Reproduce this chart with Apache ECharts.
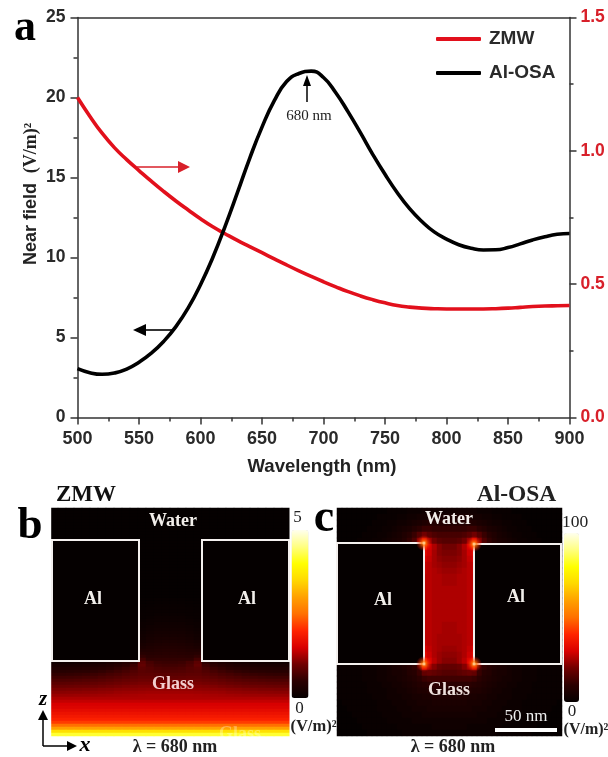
<!DOCTYPE html>
<html><head><meta charset="utf-8">
<style>html,body{margin:0;padding:0;background:#fff}#c{width:608px;height:757px}</style>
<script src="https://cdn.jsdelivr.net/npm/echarts@6/dist/echarts.min.js"></script>
</head><body><div id="c"></div>
<script>
const wavelengths=[500,510,520,530,540,550,560,570,580,590,600,610,620,630,640,650,660,670,680,690,700,710,720,730,740,750,760,770,780,790,800,810,820,830,840,850,860,870,880,890,900];
const alOsaField=[3.05,2.8,2.7,2.78,3.02,3.45,4.02,4.75,5.68,6.85,8.3,10.0,11.95,14.05,16.2,18.15,19.8,21.0,21.5,21.65,21.25,20.3,19.1,17.8,16.45,15.2,14.05,13.05,12.25,11.6,11.15,10.8,10.58,10.47,10.48,10.62,10.85,11.1,11.3,11.45,11.5];
const zmwField=[1.2,1.13,1.066,1.012,0.967,0.926,0.886,0.848,0.812,0.778,0.745,0.715,0.689,0.664,0.641,0.618,0.595,0.572,0.55,0.529,0.509,0.49,0.472,0.456,0.442,0.43,0.42,0.414,0.41,0.408,0.407,0.407,0.407,0.407,0.408,0.41,0.413,0.416,0.418,0.419,0.42];
const heatColors=['#050000','#2a0000','#700000','#d80000','#ff2400','#ff7000','#ffa000','#ffd800','#ffff00','#ffff80','#ffffee'];

// Panel b (ZMW), 0-5 scale. 30 columns x 76 rows; half-rows run from the outer edge to the centre.
const zmwGapRows=[[.02,.02,.03,.03],[.02,.03,.03,.03],[.03,.03,.04,.04],[.03,.04,.05,.05],[.04,.05,.06,.06],[.05,.06,.07,.07],[.06,.07,.09,.09],[.07,.09,.11,.11],[.09,.11,.13,.13],[.1,.13,.15,.15],[.12,.15,.17,.18],[.14,.17,.2,.2],[.16,.2,.23,.23],[.18,.23,.26,.27],[.21,.26,.29,.3],[.25,.3,.33,.34],[.3,.34,.37,.38],[.36,.38,.41,.42],[.44,.43,.45,.46],[.54,.48,.5,.5],[.68,.54,.55,.55]];
const zmwNearGlassRows=[
[.15,.15,.15,.16,.18,.2,.22,.25,.3,.38,.5,.85,.7,.62,.6],
[.25,.25,.25,.27,.29,.31,.34,.38,.43,.5,.62,.9,.75,.68,.66],
[.35,.35,.36,.37,.39,.42,.45,.49,.54,.6,.7,.85,.8,.74,.72],
[.45,.45,.46,.47,.49,.52,.55,.59,.64,.7,.77,.84,.82,.79,.78],
[.55,.55,.56,.57,.59,.62,.65,.69,.73,.78,.83,.87,.87,.85,.84],
[.65,.65,.66,.67,.69,.71,.74,.77,.81,.85,.89,.92,.92,.91,.9],
[.75,.75,.76,.77,.79,.81,.83,.86,.89,.93,.96,.98,.98,.97,.97],
[.85,.85,.86,.87,.88,.9,.92,.94,.97,1,1.02,1.04,1.04,1.04,1.04],
[.95,.95,.96,.97,.98,.99,1.01,1.03,1.05,1.07,1.09,1.1,1.1,1.1,1.1],
[1.05,1.05,1.06,1.06,1.07,1.08,1.1,1.11,1.13,1.14,1.15,1.16,1.17,1.17,1.17],
[1.12,1.12,1.13,1.13,1.14,1.15,1.16,1.17,1.19,1.2,1.21,1.22,1.23,1.23,1.23],
[1.2,1.2,1.2,1.21,1.21,1.22,1.23,1.24,1.25,1.26,1.27,1.28,1.29,1.29,1.29]];
const zmwGlassRows=[1.3,1.4,1.5,1.55,1.65,1.75,1.85,1.95,2.15,2.5,3,3.6,4.2];

// Panel c (Al-OSA), 0-100 scale. 45 columns x 38 rows; half-rows end on the centre column.
const osaTopRows=[
[0,0,0,0,0,0,0,0,0,0,1,1,1,1,2,2,2,3,3,3,3,3,3],
[0,0,0,0,0,0,0,0,1,1,1,1,2,2,3,3,4,4,5,5,5,5,5],
[0,0,0,0,0,0,0,1,1,1,2,2,3,3,4,5,6,7,8,8,8,8,8],
[0,0,0,0,0,0,1,1,1,2,2,3,4,5,6,8,10,12,12,11,11,11,11],
[0,0,0,0,0,1,1,1,2,2,3,4,5,7,9,12,16,20,17,15,14,14,14],
[0,0,0,0,1,1,1,2,2,3,4,5,6,8,11,15,22,30,24,20,17,16,16]];
const osaGapRows=[
[38,30,26,22,20,20],[32,29,25,22,21,21],[30,28,25,23,22,22],[28,27,25,24,23,23],[28,27,26,25,24,24],
[27,27,26,26,25,25],[27,27,26,26,25,25],[27,27,26,26,26,26],[27,27,26,26,26,26],[27,27,26,26,26,26],
[27,27,26,26,26,26],[27,27,26,26,26,26],[27,27,26,26,26,26],[27,27,26,26,25,25],[27,27,26,26,25,25],
[27,27,26,25,25,25],[28,27,26,25,25,25],[30,28,26,25,24,24],[32,29,26,24,23,23],[38,31,27,24,22,22]];
const osaBottomRows=[
[1,1,1,1,1,2,2,2,3,3,4,5,6,7,9,11,14,30,25,22,19,18,18],
[1,1,1,1,1,2,2,2,3,3,4,5,5,6,8,9,12,18,19,18,17,16,16],
[1,1,1,1,1,2,2,2,3,3,4,4,5,6,7,8,10,12,13,13,13,13,13],
[1,1,1,1,1,1,2,2,2,3,3,4,4,5,6,7,8,9,10,10,10,10,10],
[1,1,1,1,1,1,2,2,2,2,3,3,4,4,5,6,7,7,8,8,8,8,8],
[1,1,1,1,1,1,1,2,2,2,3,3,3,4,4,5,5,6,6,7,7,7,7],
[0,1,1,1,1,1,1,1,2,2,2,3,3,3,4,4,5,5,5,6,6,6,6],
[0,0,1,1,1,1,1,1,2,2,2,2,3,3,3,4,4,4,5,5,5,5,5],
[0,0,0,1,1,1,1,1,1,2,2,2,2,3,3,3,3,4,4,4,4,4,4],
[0,0,0,0,1,1,1,1,1,1,2,2,2,2,2,3,3,3,3,3,3,3,3],
[0,0,0,0,0,1,1,1,1,1,1,1,2,2,2,2,2,2,2,3,3,3,3],
[0,0,0,0,0,0,1,1,1,1,1,1,1,2,2,2,2,2,2,2,2,2,2]];

const zeros=n=>new Array(n).fill(0);
const zmwHalf=[];
for(let i=0;i<30;i++)zmwHalf.push(zeros(15));
zmwGapRows.forEach(r=>zmwHalf.push(zeros(11).concat(r)));
zmwNearGlassRows.forEach(r=>zmwHalf.push(r));
zmwGlassRows.forEach(v=>zmwHalf.push(new Array(15).fill(v)));
const zmwCells=[];
zmwHalf.forEach((h,r)=>h.concat(h.slice().reverse()).forEach((v,c)=>zmwCells.push([c,r,v])));
const osaHalf=[];
osaTopRows.forEach(r=>osaHalf.push(r));
osaGapRows.forEach(r=>osaHalf.push(zeros(17).concat(r)));
osaBottomRows.forEach(r=>osaHalf.push(r));
const osaCells=[];
osaHalf.forEach((h,r)=>h.concat(h.slice(0,22).reverse()).forEach((v,c)=>osaCells.push([c,r,v])));
const idx=n=>Array.from({length:n},(_,i)=>String(i));

const SERIF='"Liberation Serif","Times New Roman",serif',SANS='"Liberation Sans",Arial,sans-serif';
const axisCol='#333',tickFont={fontFamily:SANS,fontWeight:'bold',fontSize:17.5,color:'#2a2a2a'};
const RED='#e2101c';
const T=(text,x,y,font,size,color,extra)=>Object.assign({type:'text',z:100,silent:true,x,y,rotation:(extra&&extra.rot)||0,
  style:{text,fontFamily:font,fontSize:size,fontWeight:(extra&&extra.weight)||'bold',fontStyle:(extra&&extra.italic)?'italic':'normal',fill:color,opacity:(extra&&extra.op)||1,
  textAlign:(extra&&extra.align)||'center',textVerticalAlign:'middle'}});
const L=(x1,y1,x2,y2,color,w)=>({type:'line',z:100,silent:true,shape:{x1,y1,x2,y2},style:{stroke:color,lineWidth:w}});
const P=(pts,color)=>({type:'polygon',z:100,silent:true,shape:{points:pts},style:{fill:color}});
const Box=(pts)=>({type:'polygon',z:50,silent:true,shape:{points:pts},style:{fill:'#050000',stroke:'#f4f0ee',lineWidth:2}});
const Glow=(x,y,r,c)=>({type:'circle',z:60,silent:true,shape:{cx:x,cy:y,r},style:{fill:new echarts.graphic.RadialGradient(.5,.5,.5,[{offset:0,color:c},{offset:.3,color:'rgba(255,110,0,.8)'},{offset:1,color:'rgba(255,0,0,0)'}])}});

const graphic=[
 {type:'rect',z:40,silent:true,shape:{x:48,y:506,width:3.2,height:232},style:{fill:'#fff'}},
 {type:'rect',z:40,silent:true,shape:{x:289.5,y:506,width:1.8,height:232},style:{fill:'#fff'}},
 T('a',25,29,SERIF,44,'#000'),T('b',30,526,SERIF,45,'#000'),T('c',324,519,SERIF,46,'#000'),
 T('Near field',31,224,SANS,18,'#222',{rot:Math.PI/2}),
 T('(V/m)²',31,148,SERIF,18,'#222',{rot:Math.PI/2}),
 L(137,167,179,167,'#d8202a',1.6),P([[178,161],[190,167],[178,173]],'#d8202a'),
 L(172,330,145,330,'#000',1.6),P([[146,324],[133,330],[146,336]],'#000'),
 L(307,102,307,82,'#000',1.5),P([[303,86],[307,75],[311,86]],'#000'),
 T('680 nm',309,116,SERIF,15,'#222',{weight:'normal'}),
 T('Wavelength (nm)',322,467,SANS,18.6,'#222'),
 T('ZMW',86,495,SERIF,23,'#111'),T('Al-OSA',516.5,495,SERIF,23.5,'#222'),
 Box([[52,540],[139,540],[139,661],[52,661]]),Box([[289,540],[202,540],[202,661],[289,661]]),
 Box([[337,543],[424,543],[424,664],[337,664]]),Box([[561,544],[474,544],[474,664],[561,664]]),
 Glow(424,543,8,'#ffe8b0'),Glow(474,544,8,'#ffe8b0'),Glow(424,664,8,'#ffe8b0'),Glow(474,664,8,'#ffe8b0'),
 T('Water',173,521,SERIF,18,'#f2eeea'),T('Al',93,599,SERIF,18,'#f2eeea'),T('Al',247,599,SERIF,18,'#f2eeea'),
 T('Glass',173,684,SERIF,18,'#f3d0d0'),T('Glass',240,734,SERIF,18,'#fff',{op:.3}),
 T('Water',449,519,SERIF,18,'#f2eeea'),T('Al',383,600,SERIF,18,'#f2eeea'),T('Al',516,597,SERIF,18,'#f2eeea'),
 T('Glass',449,690,SERIF,18,'#eee0dc'),T('50 nm',526,717,SERIF,17,'#eee',{weight:'normal'}),
 {type:'rect',z:100,silent:true,shape:{x:495,y:728,width:62,height:4},style:{fill:'#fff'}},
 T('5',297.5,518,SERIF,17,'#222',{weight:'normal'}),T('0',299.5,709,SERIF,17,'#222',{weight:'normal'}),
 T('100',575,522,SERIF,17.5,'#222',{weight:'normal'}),T('0',572,712,SERIF,17,'#222',{weight:'normal'}),
 T('(V/m)²',313.5,727,SERIF,16.5,'#222'),T('(V/m)²',586,730,SERIF,16,'#222'),
 T('λ = 680 nm',175,747,SERIF,18,'#222'),T('λ = 680 nm',453,747,SERIF,18,'#222'),
 L(43,746,43,718,'#000',1.5),P([[38,720],[43,710],[48,720]],'#000'),
 L(43,746,68,746,'#000',1.5),P([[67,741],[77,746],[67,751]],'#000'),
 T('z',43,700,SERIF,21,'#000',{italic:true}),T('x',85,745,SERIF,22,'#000',{italic:true})
];

const mainX=(pos,show)=>({type:'value',gridIndex:0,position:pos,min:500,max:900,interval:50,
 axisLine:{onZero:false,lineStyle:{color:axisCol,width:1.5}},splitLine:{show:false},
 axisTick:{show,length:7,lineStyle:{color:axisCol,width:1.5}},minorTick:{show,splitNumber:2,length:4,lineStyle:{color:axisCol,width:1.5}},
 axisLabel:Object.assign({show,margin:13},tickFont,{fontSize:18})});
const hidden=(grid,n,inv)=>({type:'category',gridIndex:grid,data:idx(n),show:false,inverse:!!inv});

const option={
 animation:false,backgroundColor:'#fff',
 legend:{orient:'vertical',left:431,top:24.5,itemWidth:45,itemHeight:4,itemGap:15,
  data:[{name:'ZMW',icon:'roundRect'},{name:'Al-OSA',icon:'roundRect'}],
  textStyle:{fontFamily:SANS,fontWeight:'bold',fontSize:19,color:'#2a2a2a',padding:[0,0,0,3]}},
 grid:[{left:77.5,right:38.5,top:17.5,bottom:339.5},{left:50,top:508,width:240,height:228},{left:337,top:508,width:225,height:228}],
 xAxis:[mainX('bottom',true),mainX('top',false),hidden(1,30),hidden(2,45)],
 yAxis:[
  {type:'value',gridIndex:0,position:'left',min:0,max:25,interval:5,axisLine:{show:true,onZero:false,lineStyle:{color:axisCol,width:1.5}},splitLine:{show:false},
   axisTick:{show:true,length:7,lineStyle:{color:axisCol,width:1.5}},minorTick:{show:true,splitNumber:2,length:4,lineStyle:{color:axisCol,width:1.5}},axisLabel:Object.assign({margin:12},tickFont)},
  {type:'value',gridIndex:0,position:'right',min:0,max:1.5,interval:.5,axisLine:{show:true,onZero:false,lineStyle:{color:axisCol,width:1.5}},splitLine:{show:false},
   axisTick:{show:true,length:7,lineStyle:{color:axisCol,width:1.5}},minorTick:{show:true,splitNumber:2,length:4,lineStyle:{color:axisCol,width:1.5}},
   axisLabel:Object.assign({},tickFont,{margin:11,color:'#d8202a',formatter:v=>v.toFixed(1)})},
  hidden(1,76,true),hidden(2,38,true)],
 visualMap:[
  {type:'continuous',seriesIndex:2,min:0,max:5,left:276.5,top:515,itemWidth:17,itemHeight:168,showLabel:false,calculable:false,hoverLink:false,inRange:{color:heatColors},dimension:2},
  {type:'continuous',seriesIndex:3,min:0,max:100,left:549,top:518,itemWidth:15,itemHeight:169,showLabel:false,calculable:false,hoverLink:false,inRange:{color:heatColors},dimension:2}],
 series:[
  {name:'ZMW',type:'line',xAxisIndex:0,yAxisIndex:1,data:wavelengths.map((w,i)=>[w,zmwField[i]]),smooth:true,symbol:'none',lineStyle:{color:RED,width:3.6},itemStyle:{color:RED}},
  {name:'Al-OSA',type:'line',xAxisIndex:0,yAxisIndex:0,data:wavelengths.map((w,i)=>[w,alOsaField[i]]),smooth:true,symbol:'none',lineStyle:{color:'#000',width:3.6},itemStyle:{color:'#000'}},
  {type:'heatmap',xAxisIndex:2,yAxisIndex:2,data:zmwCells,progressive:0,silent:true,itemStyle:{borderWidth:0}},
  {type:'heatmap',xAxisIndex:3,yAxisIndex:3,data:osaCells,progressive:0,silent:true,itemStyle:{borderWidth:0}}],
 graphic
};
echarts.init(document.getElementById('c'),null,{renderer:'canvas'}).setOption(option);
</script></body></html>
